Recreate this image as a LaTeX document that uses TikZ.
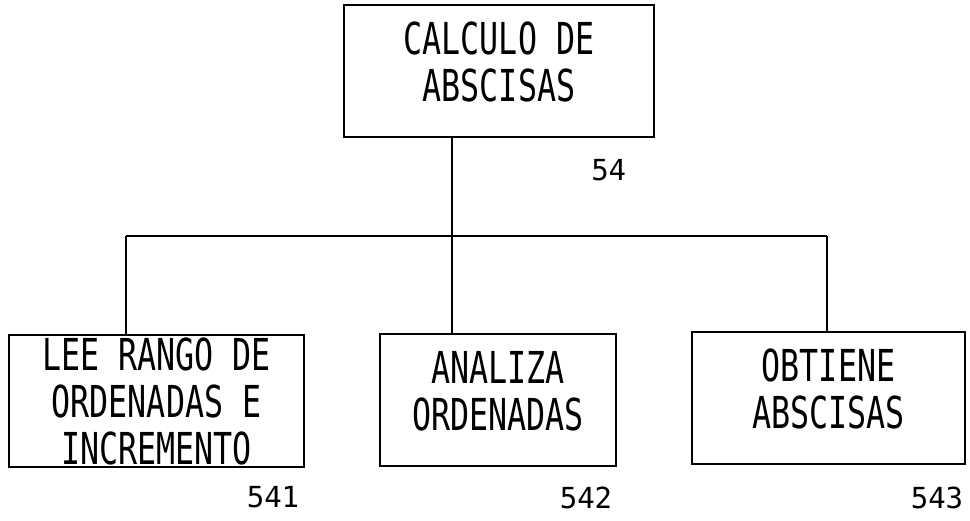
\documentclass[tikz,border=0pt]{standalone}
\usepackage{fontspec}
\newfontfamily\boxfont[FakeStretch=0.72]{DejaVu Sans Mono}
\newfontfamily\tagfont{DejaVu Sans Mono}
\usetikzlibrary{positioning}

\begin{document}
\begin{tikzpicture}[x=1pt,y=1pt,
  module/.style={draw,line width=2.8pt,inner sep=0pt,minimum height=132pt,align=center,font=\boxfont\fontsize{44}{47}\selectfont},
  lifted/.style={text depth=18pt},
  tag/.style={inner sep=0pt,font=\tagfont\fontsize{29}{30}\selectfont},
  link/.style={line width=2pt}]
\useasboundingbox (0,0) rectangle (970,-520);
% modules
\node[module,lifted,minimum width=310pt] (calc) at (499,-71) {CALCULO DE\\ABSCISAS};
\node[module,minimum width=295pt] (lee) at (156.5,-401) {LEE RANGO DE\\ORDENADAS E\\INCREMENTO};
\node[module,lifted,minimum width=236pt] (ana) at (498,-400) {ANALIZA\\ORDENADAS};
\node[module,lifted,minimum width=273pt] (obt) at (828.5,-398) {OBTIENE\\ABSCISAS};
% numbers
\node[tag,below left=21pt and 29pt of calc.south east] (n54) {54};
\node[tag,below left=18pt and 6pt of lee.south east] (n541) {541};
\node[tag,below left=19pt and 5pt of ana.south east] (n542) {542};
\node[tag,below left=21pt and 3pt of obt.south east] (n543) {543};
% connectors
\coordinate (drop) at (452,-236); \coordinate (busL) at (126,-236); \coordinate (busR) at (827,-236);
\draw[link] (drop |- calc.south) -- (drop |- ana.north);
\draw[link] (busL) -- (busR);
\draw[link] (busL) -- (busL |- lee.north); \draw[link] (busR) -- (busR |- obt.north);
\end{tikzpicture}
\end{document}
